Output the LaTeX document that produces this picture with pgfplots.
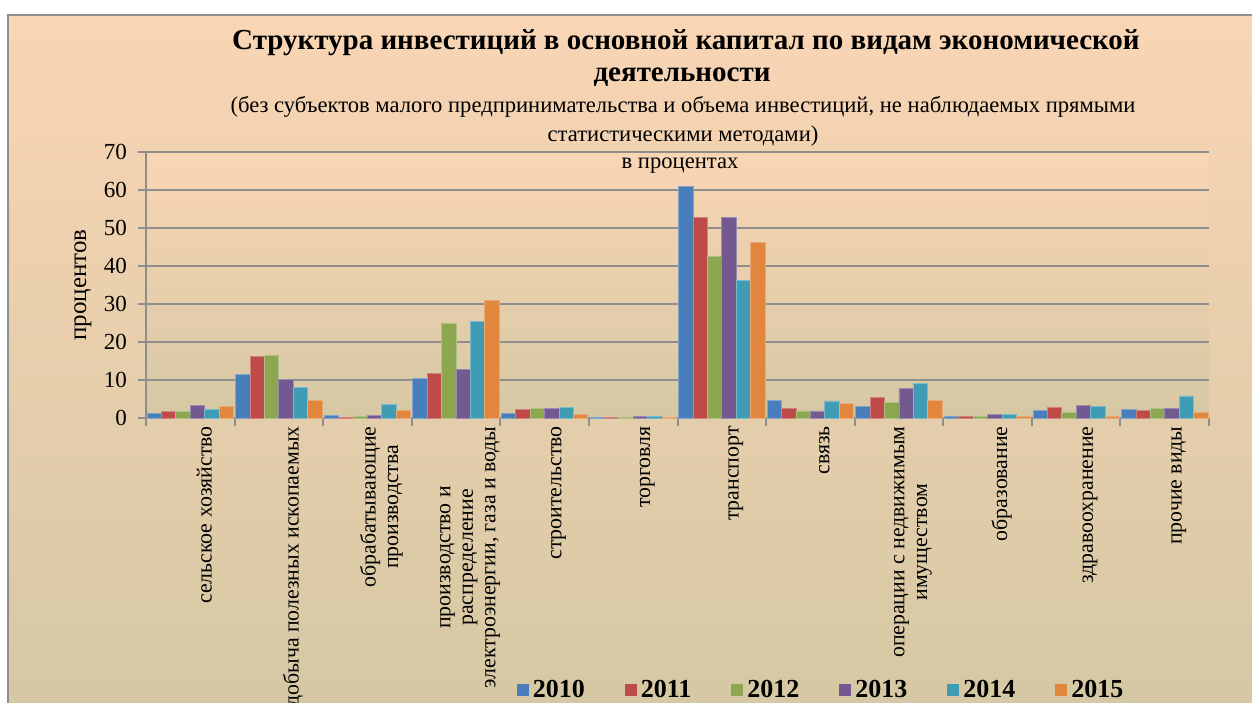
\documentclass[border=0pt]{standalone}
\usepackage{fontspec}
\setmainfont{Liberation Serif}
\usepackage{pgfplots}
\usepackage{pgfplotstable}
\pgfplotsset{compat=1.18}
\definecolor{c2010}{HTML}{4A7EBB}
\definecolor{c2011}{HTML}{BE4B48}
\definecolor{c2012}{HTML}{8CA750}
\definecolor{c2013}{HTML}{72598F}
\definecolor{c2014}{HTML}{409CB5}
\definecolor{c2015}{HTML}{E0863D}
\definecolor{peach}{HTML}{F9D5B4}
\definecolor{cream}{HTML}{F2EBD5}
\definecolor{tanbg}{HTML}{D6C8A4}
\definecolor{framegray}{HTML}{8E8E8E}
\pgfplotstableread{
x y2010 y2011 y2012 y2013 y2014 y2015
1 1.2 1.7 1.7 3.2 2.2 3.1
2 11.4 16.2 16.4 10.1 8.1 4.6
3 0.6 0.2 0.3 0.7 3.5 2.0
4 10.3 11.8 25.0 12.8 25.4 30.9
5 1.2 2.3 2.4 2.6 2.7 0.9
6 0.2 0.1 0.1 0.3 0.3 0.05
7 61.0 52.7 42.4 52.8 36.3 46.3
8 4.6 2.4 1.85 1.85 4.5 3.8
9 3.1 5.4 4.2 7.8 9.2 4.6
10 0.35 0.5 0.5 1.0 1.0 0.4
11 2.0 2.7 1.4 3.3 3.0 0.4
12 2.2 1.9 2.4 2.6 5.8 1.5
}\data
\begin{document}
\begin{tikzpicture}
\fill[white] (0,0) rectangle (626pt,351pt);
\shade[top color=peach, middle color=cream, bottom color=tanbg] (4pt,0) rectangle (626pt,343.5pt);
\draw[framegray, line width=1pt] (4pt,-1pt) -- (4pt,343.5pt) -- (627pt,343.5pt);
\node[font=\bfseries\fontsize{14.5}{17}\selectfont, anchor=base] at (343pt,326pt) {Структура инвестиций в основной капитал по видам экономической};
\node[font=\bfseries\fontsize{14.5}{17}\selectfont, anchor=base] at (341pt,310pt) {деятельности};
\node[font=\fontsize{11.3}{13}\selectfont, anchor=base] at (341.5pt,294.5pt) {(без субъектов малого предпринимательства и объема инвестиций, не наблюдаемых прямыми};
\node[font=\fontsize{11.3}{13}\selectfont, anchor=base] at (341.5pt,280pt) {статистическими методами)};
\begin{axis}[
  at={(73pt,142pt)}, anchor=south west,
  width=531.5pt, height=133pt, scale only axis,
  axis background/.style={shade, top color=peach, middle color=cream, bottom color=tanbg},
  ybar=0pt, bar width=7.2pt,
  xmin=0.5, xmax=12.5, ymin=0, ymax=70,
  ytick={0,10,...,70},
  axis x line*=bottom, axis y line*=left,
  axis line style={framegray, line width=1pt, -},
  ymajorgrids, grid style={framegray, line width=1pt},
  tick align=outside,
  major tick length=4pt,
  minor tick length=4pt,
  y tick style={framegray, line width=1pt},
  xtick={1,...,12},
  major x tick style={draw=none},
  minor xtick={0.5,1.5,...,12.5},
  minor x tick style={framegray, line width=1pt},
  /pgf/number format/assume math mode=true,
  yticklabel style={font=\fontsize{11.5}{13}\selectfont, xshift=-2pt},
  xticklabel style={font=\fontsize{10.9}{11.3}\selectfont, rotate=90, anchor=east, align=center, inner sep=0pt, yshift=-7pt},
  xticklabels={сельское хозяйство, добыча полезных ископаемых, {обрабатывающие\\производства}, {производство и\\распределение\\электроэнергии, газа и воды}, строительство, торговля, транспорт, связь, {операции с недвижимым\\имуществом}, образование, здравоохранение, прочие виды},
  ylabel={процентов},
  ylabel style={font=\fontsize{12.5}{14}\selectfont, at={(axis description cs:-0.0593,0.5)}, anchor=center},
  legend columns=6,
  legend style={at={(axis description cs:0.6360,-1.0226)}, anchor=center, draw=none, fill=none,
    font=\bfseries\fontsize{13}{15}\selectfont,
    /tikz/every even column/.append style={column sep=18pt}},
  legend image code/.code={\fill[#1,draw=none] (0pt,-3pt) rectangle (6pt,3pt);},
  every axis plot/.append style={line width=0.4pt},
]
\addplot[fill=c2010, draw=c2010!70!white] table[x=x,y=y2010] {\data};
\addplot[fill=c2011, draw=c2011!70!white] table[x=x,y=y2011] {\data};
\addplot[fill=c2012, draw=c2012!70!white] table[x=x,y=y2012] {\data};
\addplot[fill=c2013, draw=c2013!70!white] table[x=x,y=y2013] {\data};
\addplot[fill=c2014, draw=c2014!70!white] table[x=x,y=y2014] {\data};
\addplot[fill=c2015, draw=c2015!70!white] table[x=x,y=y2015] {\data};
\legend{2010,2011,2012,2013,2014,2015}
\node[font=\fontsize{11.3}{13}\selectfont, anchor=base] at (axis description cs:0.5024,0.9398) {в процентах};
\end{axis}
\pgfresetboundingbox
\useasboundingbox (0,0) rectangle (626pt,351pt);
\end{tikzpicture}
\end{document}
